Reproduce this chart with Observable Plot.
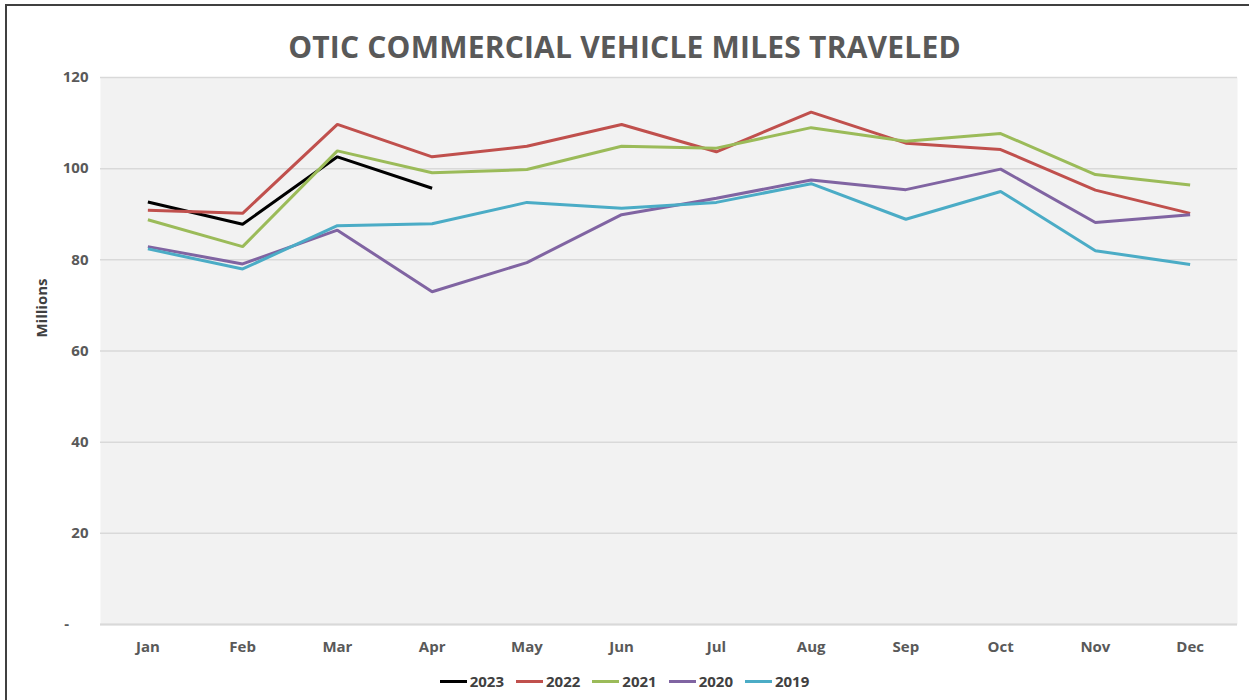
<!DOCTYPE html>
<html>
<head>
<meta charset="utf-8">
<script src="https://cdn.jsdelivr.net/npm/d3@7"></script>
<script src="https://cdn.jsdelivr.net/npm/@observablehq/plot@0.6"></script>
<style>
  html, body { margin: 0; padding: 0; background: #fff; }
  #wrap { position: relative; width: 1249px; height: 700px; overflow: hidden;
          font-family: "Open Sans", Lato, sans-serif; }
  #border { position: absolute; left: 5px; top: 4px; width: 1300px; height: 760px;
            border: 2px solid #404040; box-sizing: border-box; }
  #title { position: absolute; left: 0; top: 26px; width: 1249px; text-align: center;
           font-size: 30px; font-weight: bold; color: #595959; letter-spacing: 0.2px; white-space: nowrap; }
  #chart { position: absolute; left: 0; top: 0; }
  #ylabel { position: absolute; left: 41px; top: 308px; transform: translate(-50%, -50%) rotate(-90deg);
            font-size: 15px; font-weight: bold; color: #404040; white-space: nowrap; }
  #legend { position: absolute; left: 0; top: 671px; width: 1249px; display: flex; justify-content: center;
            gap: 12px; font-size: 15px; font-weight: bold; color: #404040; }
  .item { display: flex; align-items: center; }
  .sw { width: 27px; height: 3px; margin-right: 3px; }
</style>
</head>
<body>
<div id="wrap">
  <div id="border"></div>
  <div id="title">OTIC COMMERCIAL VEHICLE MILES TRAVELED</div>
  <div id="chart"></div>
  <div id="ylabel">Millions</div>
  <div id="legend"></div>
</div>
<script>
const months = ["Jan","Feb","Mar","Apr","May","Jun","Jul","Aug","Sep","Oct","Nov","Dec"];
const years = ["2023","2022","2021","2020","2019"];
const colors = ["#000000","#c0504d","#9bbb59","#8064a2","#4bacc6"];
const yTicks = [0,20,40,60,80,100,120];

const v2023 = [92.7, 87.8, 102.6, 95.7];
const v2022 = [90.9, 90.2, 109.7, 102.6, 104.9, 109.7, 103.7, 112.4, 105.6, 104.2, 95.3, 90.2];
const v2021 = [88.8, 82.9, 103.9, 99.1, 99.8, 104.9, 104.5, 109.0, 106.0, 107.7, 98.7, 96.4];
const v2020 = [82.9, 79.1, 86.5, 73.0, 79.4, 89.9, 93.5, 97.5, 95.4, 99.9, 88.2, 89.9];
const v2019 = [82.4, 78.0, 87.5, 87.9, 92.6, 91.3, 92.6, 96.7, 88.9, 95.0, 82.0, 79.0];

const series = [v2023, v2022, v2021, v2020, v2019];
const data = [];
series.forEach((vals, i) => vals.forEach((v, j) => data.push({year: years[i], month: months[j], value: v})));

const plot = Plot.plot({
  width: 1249,
  height: 700,
  marginLeft: 100,
  marginRight: 12,
  marginTop: 77,
  marginBottom: 76,
  style: {fontFamily: '"Open Sans", Lato, sans-serif', fontSize: "15px", fontWeight: "bold", color: "#595959", background: "transparent"},
  x: {type: "point", domain: months, padding: 0.5, round: false, label: null},
  y: {domain: [0, 120], label: null},
  color: {domain: years, range: colors},
  marks: [
    Plot.frame({fill: "#f2f2f2", stroke: null}),
    Plot.gridY(yTicks, {stroke: "#d9d9d9", strokeOpacity: 1, strokeWidth: 1.5}),
    Plot.ruleY([0], {stroke: "#d9d9d9", strokeWidth: 2}),
    Plot.axisY(yTicks, {tickSize: 0, tickPadding: 12, fill: "#595959",
      tickFormat: d => d === 0 ? "-\u00a0\u00a0\u00a0\u00a0\u00a0" : String(d)}),
    Plot.axisX({tickSize: 0, tickPadding: 17, fill: "#595959"}),
    Plot.line(data, {x: "month", y: "value", z: "year", stroke: "year", strokeWidth: 3, strokeLinejoin: "miter", strokeLinecap: "butt"})
  ]
});
document.getElementById("chart").appendChild(plot);

const legend = document.getElementById("legend");
years.forEach((y, i) => {
  const it = document.createElement("div");
  it.className = "item";
  it.innerHTML = `<span class="sw" style="background:${colors[i]}"></span><span>${y}</span>`;
  legend.appendChild(it);
});
</script>
</body>
</html>
